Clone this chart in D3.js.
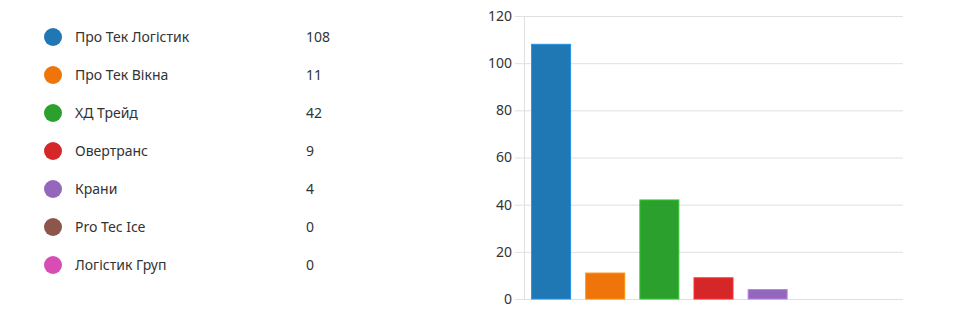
<!DOCTYPE html>
<meta charset="utf-8">
<title>Bar chart</title>
<script src="https://d3js.org/d3.v7.min.js"></script>
<style>
  body { margin: 0; background: #fff; }
  svg { font-family: "Segoe UI", "Noto Sans", "Open Sans", sans-serif; }
</style>
<body>
<div id="chart"></div>
<script>
  // data
  const names = ["Про Тек Логістик", "Про Тек Вікна", "ХД Трейд", "Овертранс", "Крани", "Pro Tec Ice", "Логістик Груп"];
  const counts = [108, 11, 42, 9, 4, 0, 0];
  const colors = ["#1f77b4", "#ef7409", "#2ca02c", "#d62728", "#9467bd", "#8c564b", "#d84db5"];
  const yTicks = [0, 20, 40, 60, 80, 100, 120];

  const width = 956, height = 314;
  const svg = d3.select("#chart").append("svg")
    .attr("width", width)
    .attr("height", height);

  // legend on the left
  const legend = svg.append("g");
  const rowY = d3.scalePoint().domain(names).range([37, 265]);
  const row = legend.selectAll("g").data(names).join("g")
    .attr("transform", d => `translate(0,${rowY(d)})`);
  row.append("circle")
    .attr("cx", 53).attr("cy", 0).attr("r", 9)
    .attr("fill", (d, i) => colors[i]);
  row.append("text")
    .attr("x", 75).attr("dy", "0.35em")
    .style("font-size", "14px").attr("fill", "#333")
    .text(d => d);
  row.append("text")
    .attr("x", 306).attr("dy", "0.35em")
    .style("font-size", "14px").attr("fill", "#333")
    .text((d, i) => counts[i]);

  // bar chart on the right
  const x = d3.scaleBand().domain(names).range([524, 903]).paddingInner(0.28).paddingOuter(0.14);
  const y = d3.scaleLinear().domain([0, 120]).range([299, 16]);

  const yAxis = svg.append("g")
    .attr("transform", "translate(524,0)")
    .call(d3.axisLeft(y).tickValues(yTicks).tickSize(9).tickPadding(3).tickSizeOuter(0));
  yAxis.select(".domain").attr("stroke", "#e0e0e0");
  yAxis.selectAll(".tick line").attr("stroke", "#e0e0e0").attr("x2", 903 - 524).attr("x1", -9);
  yAxis.selectAll(".tick text").attr("fill", "#333").style("font-size", "14px")
    .style("font-family", "\"Segoe UI\", \"Noto Sans\", \"Open Sans\", sans-serif");

  svg.append("g").selectAll("rect").data(names).join("rect")
    .attr("x", d => x(d))
    .attr("y", (d, i) => y(counts[i]))
    .attr("width", x.bandwidth())
    .attr("height", (d, i) => y(0) - y(counts[i]))
    .attr("fill", (d, i) => colors[i])
    .attr("stroke", (d, i) => d3.color(colors[i]).brighter(0.6))
    .attr("stroke-width", (d, i) => counts[i] > 0 ? 1 : 0);
</script>
